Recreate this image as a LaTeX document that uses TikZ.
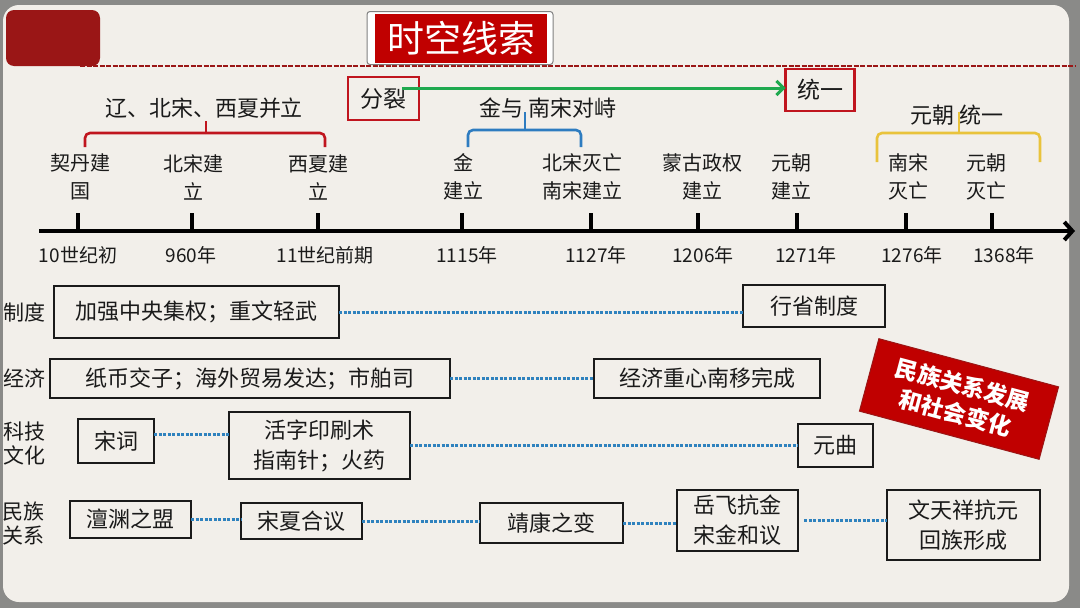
\documentclass[tikz,border=0pt]{standalone}
\usepackage{fontspec}
\setmainfont{Noto Sans CJK SC}
\usetikzlibrary{arrows.meta,calc}
\definecolor{frame}{HTML}{8A8A88}
\definecolor{slide}{HTML}{F2EFEA}
\definecolor{darkred}{HTML}{9A1616}
\definecolor{titlered}{HTML}{C00000}
\definecolor{brred}{HTML}{C0151E}
\definecolor{brblue}{HTML}{2E7CC0}
\definecolor{bryellow}{HTML}{E9C33C}
\definecolor{arrgreen}{HTML}{1FA94F}
\definecolor{dotblue}{HTML}{2F82BE}
\definecolor{ink}{HTML}{1A1A1A}
\newcommand{\fsz}[1]{\fontsize{#1pt}{#1pt}\selectfont}
\begin{document}
\begin{tikzpicture}[x=1pt,y=-1pt,
  every node/.style={inner sep=0pt,outer sep=0pt,text=ink},
  box/.style={draw=ink,line width=1.3pt,align=center,font=\fontsize{22pt}{30pt}\selectfont},
  tbox/.style={box,line width=2.4pt},
  redbox/.style={draw=brred,line width=2.4pt,font=\fsz{23}},
  ev/.style={align=center,font=\fontsize{20pt}{28pt}\selectfont},
  yr/.style={font=\fsz{19}},
  side/.style={align=center,font=\fontsize{21pt}{24pt}\selectfont},
  grp/.style={font=\fsz{22}},
  tick/.style={line width=3.5pt},
  dotline/.style={dotblue,line width=3pt,dash pattern=on 3pt off 1.5pt},
  brace/.style={line width=2.6pt,rounded corners=5pt}]
\useasboundingbox (0,0) rectangle (1080,608);
% background
\fill[frame] (0,0) rectangle (1080,608);
\fill[slide,rounded corners=16pt] (3,5) rectangle (1069,602);
% header
\fill[darkred,rounded corners=8pt] (6,10) rectangle (100,66);
\draw[darkred,line width=2.6pt,dash pattern=on 5pt off 1.5pt] (80,66) -- (1076,66);
\node[draw=gray,line width=1pt,fill=white,rounded corners=3pt,minimum width=186,minimum height=53] (tbg) at (460,38) {};
\node[fill=titlered,minimum width=172,minimum height=49,text=white,font=\fsz{37}] (title) at (461,38) {时空线索};
% split / unify
\node[redbox,minimum width=71,minimum height=43] (fl) at (383.5,98.5) {分裂};
\node[redbox,minimum width=69,minimum height=42] (ty) at (820,90) {统一};
\coordinate (gs) at (402,88);
\draw[arrgreen,line width=3pt,-{Straight Barb[length=7pt,width=14pt,line width=3pt]}] (gs) -- (ty.west |- gs);
% group labels and braces
\node[grp] (g1) at (204,108) {辽、北宋、西夏并立};
\node[grp] (g2) at (548,108) {金与\hspace{6pt}南宋对峙};
\node[grp] (g3) at (957,115) {元朝\hspace{6pt}统一};
\draw[brace,brred] (85,147) -- (85,133) -- (325,133) -- (325,147);
\draw[brred,line width=2.6pt] (206,134) -- (206,121);
\draw[brace,brblue] (468,147) -- (468,130) -- (581,130) -- (581,147);
\draw[brblue,line width=2.6pt] (525,131) -- (525,112);
\draw[brace,bryellow] (877,162) -- (877,133) -- (1040,133) -- (1040,162);
\draw[bryellow,line width=2.6pt] (959,134) -- (959,112);
% axis
\coordinate (a0) at (39,231);
\coordinate (a1) at (1075,231);
\draw[line width=4pt,-{Straight Barb[length=8pt,width=18pt,line width=4pt]}] (a0) -- (a1);
\foreach \n/\x in {1/78,2/192,3/318,4/462,5/591,6/698,7/797,8/906,9/992}{
  \coordinate (t\n) at (\x,231);
  \draw[tick] (t\n) -- ++(0,-18);
}
% events
\node[ev] (e1) at (80,177) {契丹建\\国};
\node[ev] (e2) at (193,177) {北宋建\\立};
\node[ev] (e3) at (318,177) {西夏建\\立};
\node[ev] (e4) at (463,177) {金\\建立};
\node[ev] (e5) at (582,177) {北宋灭亡\\南宋建立};
\node[ev] (e6) at (702,177) {蒙古政权\\建立};
\node[ev] (e7) at (791,177) {元朝\\建立};
\node[ev] (e8) at (908,177) {南宋\\灭亡};
\node[ev] (e9) at (986,177) {元朝\\灭亡};
% years
\node[yr] (y1) at (78,255) {10世纪初};
\node[yr] (y2) at (191,255) {960年};
\node[yr] (y3) at (325,255) {11世纪前期};
\node[yr] (y4) at (467,255) {1115年};
\node[yr] (y5) at (596,255) {1127年};
\node[yr] (y6) at (703,255) {1206年};
\node[yr] (y7) at (806,255) {1271年};
\node[yr] (y8) at (912,255) {1276年};
\node[yr] (y9) at (1004,255) {1368年};
% side labels
\node[side] (s1) at (24,312) {制度};
\node[side] (s2) at (24,378) {经济};
\node[side] (s3) at (25,444) {科技\\文化};
\node[side] (s4) at (23,523) {民族\\关系};
% row 1
\node[box,minimum width=285,minimum height=52] (zd1) at (196.5,312) {加强中央集权；重文轻武};
\node[box,minimum width=142,minimum height=42] (zd2) at (814,306) {行省制度};
\draw[dotline] (zd1.east) -- (zd1.east -| zd2.west);
% row 2
\node[tbox,minimum width=400,minimum height=39] (jj1) at (250,378.5) {纸币交子；海外贸易发达；市舶司};
\node[tbox,minimum width=226,minimum height=39] (jj2) at (707,378.5) {经济重心南移完成};
\draw[dotline] (jj1.east) -- (jj2.west);
% row 3
\node[box,minimum width=76,minimum height=44] (kj1) at (116,441) {宋词};
\node[box,minimum width=181,minimum height=67] (kj2) at (319.5,445.5) {活字印刷术\\指南针；火药};
\node[box,line width=1.8pt,minimum width=75,minimum height=43] (kj3) at (835.5,445.5) {元曲};
\draw[dotline] ([yshift=7pt]kj1.east) -- ([yshift=7pt]kj1.east -| kj2.west);
\draw[dotline] (kj2.east) -- (kj2.east -| kj3.west);
% row 4
\node[box,minimum width=121,minimum height=37] (mz1) at (130.5,519.5) {澶渊之盟};
\node[box,minimum width=121,minimum height=36] (mz2) at (301.5,521) {宋夏合议};
\node[box,minimum width=143,minimum height=40] (mz3) at (551.5,523) {靖康之变};
\node[box,minimum width=121,minimum height=61] (mz4) at (737.5,520.5) {岳飞抗金\\宋金和议};
\node[tbox,minimum width=153,minimum height=70] (mz5) at (963.5,525) {文天祥抗元\\回族形成};
\draw[dotline] (mz1.east) -- (mz1.east -| mz2.west);
\draw[dotline] (mz2.east) -- (mz2.east -| mz3.west);
\draw[dotline] (mz3.east) -- (mz3.east -| mz4.west);
\draw[dotline,shorten <=6pt] (mz4.east) -- (mz4.east -| mz5.west);
% stamp
\node[fill=titlered,draw=darkred,line width=1pt,rotate=-15,minimum width=186,minimum height=75,align=center,text=white,font=\bfseries\fontsize{23pt}{29pt}\selectfont] (stamp) at (959,399) {民族关系发展\\和社会变化};
\end{tikzpicture}
\end{document}
